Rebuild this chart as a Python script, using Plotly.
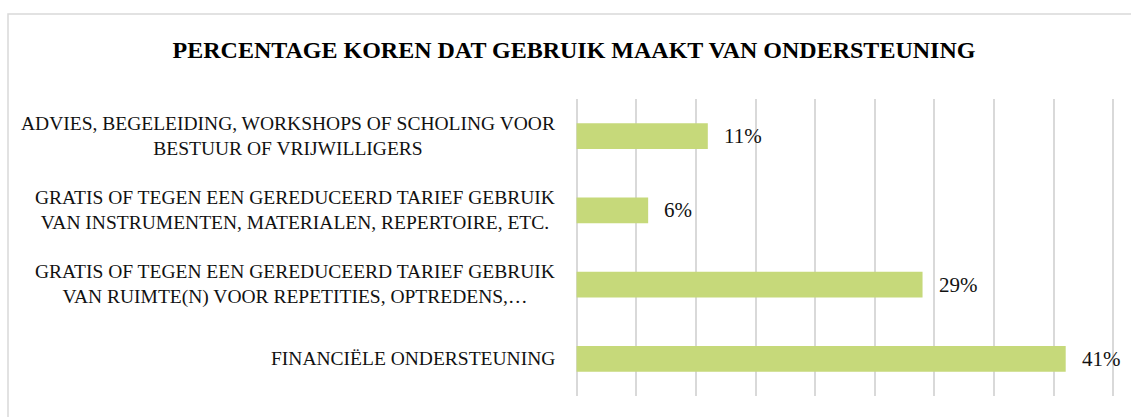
import plotly.graph_objects as go

# Survey results: share of choirs using each kind of support
categories = [
    "ADVIES, BEGELEIDING, WORKSHOPS OF SCHOLING VOOR<br>BESTUUR OF VRIJWILLIGERS",
    "GRATIS OF TEGEN EEN GEREDUCEERD TARIEF GEBRUIK<br>VAN INSTRUMENTEN, MATERIALEN, REPERTOIRE, ETC.",
    "GRATIS OF TEGEN EEN GEREDUCEERD TARIEF GEBRUIK<br>VAN RUIMTE(N) VOOR REPETITIES, OPTREDENS,…",
    "FINANCIËLE ONDERSTEUNING",
]
percentages = [11, 6, 29, 41]
title_text = "PERCENTAGE KOREN DAT GEBRUIK MAAKT VAN ONDERSTEUNING"

FONT = "Liberation Serif"
BAR_COLOR = "#c6d97a"
GRID_COLOR = "#d9d9d9"

W, H = 1131, 417
L, R, T, B = 573, 14, 99, 21
X_MIN, X_MAX = -0.3, 45.3
fig = go.Figure(
    go.Bar(
        x=percentages,
        y=categories,
        orientation="h",
        marker=dict(color=BAR_COLOR, line=dict(width=0)),
        hoverinfo="skip",
    )
)

annotations = []
# Category labels, right-aligned block with centred lines
for cat in categories:
    annotations.append(dict(
        x=0, xref="x", y=cat, yref="y",
        text=cat, showarrow=False, xanchor="right", yanchor="middle",
        align="center", xshift=-20,
        font=dict(family=FONT, size=19.5, color="#111111"),
    ))
# Value labels just past the bar ends
for cat, v in zip(categories, percentages):
    annotations.append(dict(
        x=v, xref="x", y=cat, yref="y",
        text=f"{v}%", showarrow=False, xanchor="left", yanchor="middle",
        xshift=14,
        font=dict(family=FONT, size=21, color="#111111"),
    ))

fig.update_layout(
    width=W, height=H,
    margin=dict(l=L, r=R, t=T, b=B),
    paper_bgcolor="white", plot_bgcolor="white",
    showlegend=False,
    bargap=0.65,
    title=dict(
        text=f"<b>{title_text}</b>",
        x=574 / W, xref="container", xanchor="center",
        y=1 - 50 / H, yref="container", yanchor="middle",
        font=dict(family=FONT, size=24, color="#000000"),
    ),
    xaxis=dict(
        range=[X_MIN, X_MAX], dtick=5, tick0=0,
        showgrid=True, gridcolor=GRID_COLOR, gridwidth=2,
        zeroline=True, zerolinecolor=GRID_COLOR, zerolinewidth=2,
        showticklabels=False, showline=False, ticks="",
        fixedrange=True,
    ),
    yaxis=dict(
        autorange="reversed", showticklabels=False, showgrid=False,
        zeroline=False, showline=False, ticks="", fixedrange=True,
    ),
    annotations=annotations,
    shapes=[dict(
        type="rect", xref="paper", yref="paper",
        x0=(8 - L) / (W - L - R), x1=(W + 5 - L) / (W - L - R),
        y0=-(B + 10) / (H - T - B), y1=(H - 14 - B) / (H - T - B),
        line=dict(color=GRID_COLOR, width=1.5), fillcolor="rgba(0,0,0,0)",
        layer="below",
    )],
)

fig.write_html("out.html", config={"displayModeBar": False})
